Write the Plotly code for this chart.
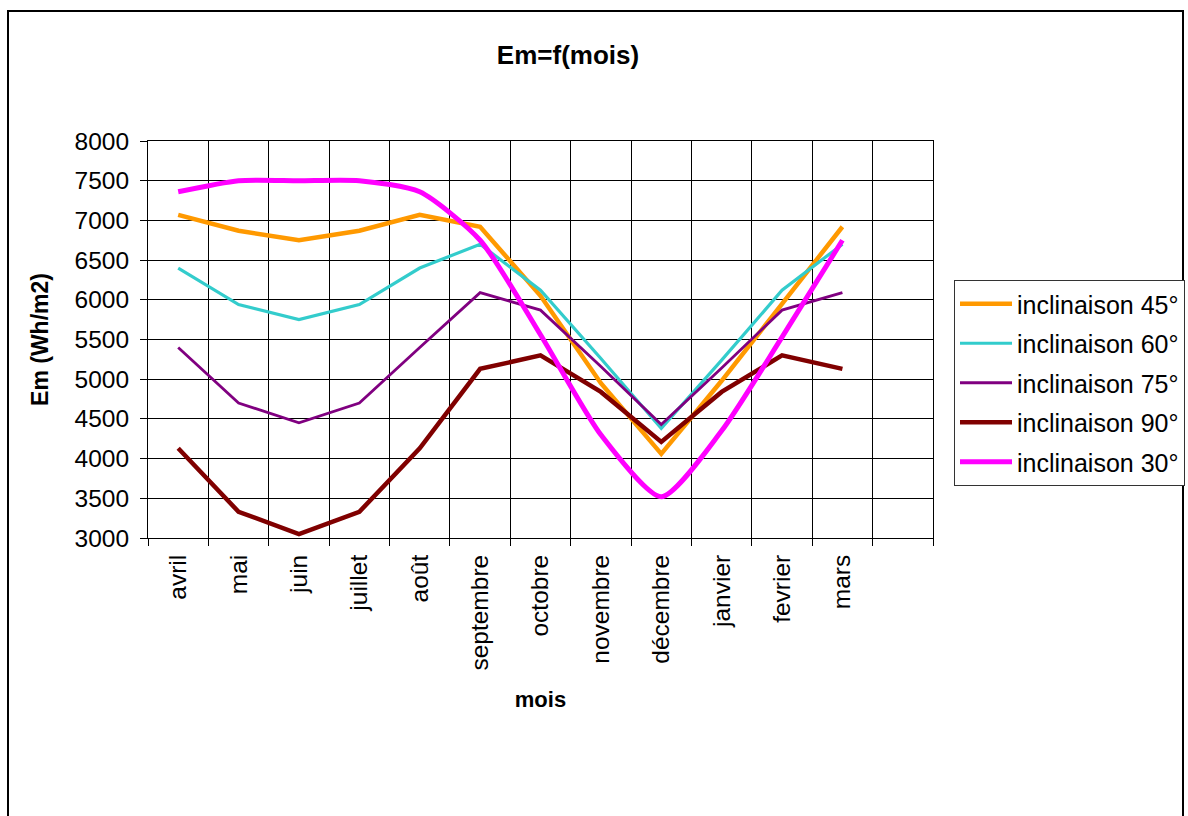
import plotly.graph_objects as go

months = ["avril", "mai", "juin", "juillet", "août", "septembre", "octobre",
          "novembre", "décembre", "janvier", "fevrier", "mars"]
extra_slot = " "

inc45 = [7070, 6870, 6750, 6870, 7070, 6920, 6050, 4950, 4060, 4980, 5950, 6920]
inc60 = [6400, 5940, 5750, 5940, 6400, 6700, 6120, 5260, 4380, 5240, 6120, 6700]
inc75 = [5400, 4700, 4450, 4700, 5400, 6090, 5870, 5160, 4430, 5140, 5870, 6090]
inc90 = [4130, 3330, 3050, 3330, 4130, 5130, 5300, 4840, 4210, 4840, 5300, 5130]
inc30 = [7360, 7500, 7500, 7500, 7360, 6750, 5560, 4300, 3520, 4350, 5530, 6750]

series = [
    ("inclinaison 45°", inc45, "#FF9900", 4.5, "linear"),
    ("inclinaison 60°", inc60, "#33CCCC", 3.2, "linear"),
    ("inclinaison 75°", inc75, "#800080", 2.8, "linear"),
    ("inclinaison 90°", inc90, "#800000", 4.5, "linear"),
    ("inclinaison 30°", inc30, "#FF00FF", 5, "spline"),
]

W, H = 1188, 816
L, R, T, B = 148, 933, 141, 538

fig = go.Figure()
for i, (name, vals, color, width, shape) in enumerate(series):
    line = dict(color=color, width=width, shape=shape)
    if shape == "spline":
        line["smoothing"] = 0.65
    fig.add_trace(go.Scatter(
        x=months, y=vals, name=name, mode="lines", line=line,
        legendgroup=f"g{i}",
    ))

font = "Liberation Sans, Arial, sans-serif"

def px_x(p):
    return (p - L) / (R - L)

def px_y(p):
    return (B - p) / (B - T)

fig.update_layout(
    width=W, height=H,
    margin=dict(l=L, r=W - R, t=T, b=H - B, autoexpand=False),
    paper_bgcolor="white", plot_bgcolor="white",
    font=dict(family=font, size=22, color="black"),
    title=dict(text="<b>Em=f(mois)</b>", x=px_x(568), xref="paper", xanchor="center",
               y=1 - 55 / H, yref="container", yanchor="middle",
               font=dict(size=26, family=font, color="black")),
    xaxis=dict(
        type="category", categoryorder="array", categoryarray=months + [extra_slot],
        range=[-0.5, 12.5], tickson="boundaries",
        showgrid=True, gridcolor="black", gridwidth=1,
        showline=True, linecolor="black", linewidth=1, mirror=True,
        ticks="outside", ticklen=7, tickcolor="black",
        tickangle=-90, tickfont=dict(size=24.5, family=font),
        ticklabelstandoff=6,
        title=dict(text="<b>mois</b>", font=dict(size=22, family=font), standoff=22),
        zeroline=False,
    ),
    yaxis=dict(
        range=[3000, 8000], dtick=500, tick0=3000,
        showgrid=True, gridcolor="black", gridwidth=1,
        showline=True, linecolor="black", linewidth=1, mirror=True,
        ticks="outside", ticklen=7, tickcolor="black",
        tickfont=dict(size=24.5, family=font),
        ticklabelstandoff=6,
        title=dict(text="<b>Em (Wh/m2)</b>", font=dict(size=23, family=font), standoff=19),
        zeroline=False,
    ),
    legend=dict(
        x=px_x(954), y=px_y(280), xanchor="left", yanchor="top",
        bordercolor="#333333", borderwidth=1, bgcolor="white",
        font=dict(size=25, family=font, color="black"),
        tracegroupgap=4, itemwidth=52,
    ),
    showlegend=True,
    shapes=[dict(type="rect", xref="paper", yref="paper",
                 x0=px_x(8), x1=px_x(1183), y0=px_y(830), y1=px_y(11),
                 line=dict(color="black", width=2), layer="below")],
)

fig.write_html("out.html")
